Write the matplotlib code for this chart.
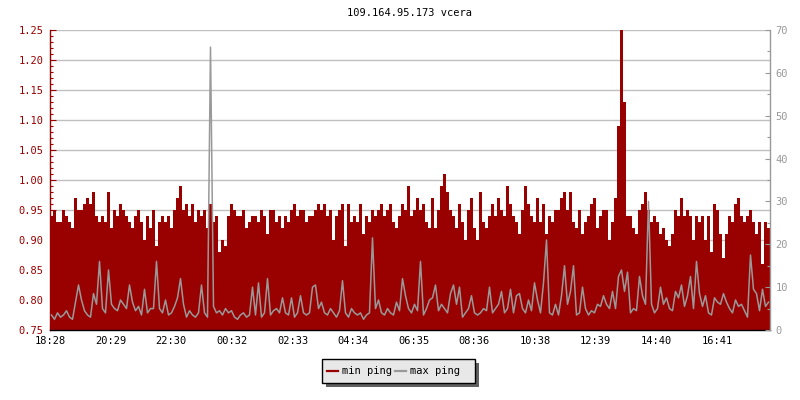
import matplotlib
matplotlib.use("Agg")
import matplotlib.pyplot as plt
import numpy as np
from matplotlib.patches import Rectangle
from matplotlib.lines import Line2D

plt.rcParams['font.family'] = 'DejaVu Sans Mono'
plt.rcParams['font.size'] = 7.5

DARKRED = '#990000'
GRAY = '#999999'

# samples every 6 minutes, starting 18:28
step_min = 6

min_ping = [
    0.94, 0.95, 0.93, 0.93, 0.95, 0.94, 0.93, 0.92, 0.97, 0.95, 0.95, 0.96, 0.97, 0.96, 0.98, 0.94, 0.93,
    0.94, 0.93, 0.98, 0.92, 0.95, 0.94, 0.96, 0.95, 0.94, 0.93, 0.92, 0.94, 0.95, 0.93, 0.90, 0.94, 0.92,
    0.95, 0.89, 0.93, 0.94, 0.93, 0.94, 0.92, 0.95, 0.97, 0.99, 0.95, 0.96, 0.94, 0.96, 0.93, 0.95, 0.94,
    0.95, 0.92, 0.96, 0.93, 0.94, 0.88, 0.90, 0.89, 0.94, 0.96, 0.95, 0.94, 0.94, 0.95, 0.92, 0.93, 0.94,
    0.94, 0.93, 0.95, 0.94, 0.91, 0.95, 0.95, 0.93, 0.94, 0.92, 0.94, 0.93, 0.95, 0.96, 0.94, 0.95, 0.95,
    0.93, 0.94, 0.94, 0.95, 0.96, 0.95, 0.96, 0.94, 0.95, 0.90, 0.94, 0.95, 0.96, 0.89, 0.96, 0.93, 0.94,
    0.93, 0.96, 0.91, 0.94, 0.93, 0.95, 0.94, 0.95, 0.96, 0.94, 0.95, 0.96, 0.93, 0.92, 0.94, 0.96, 0.95,
    0.99, 0.94, 0.95, 0.97, 0.95, 0.96, 0.93, 0.92, 0.97, 0.92, 0.95, 0.99, 1.01, 0.98, 0.95, 0.94, 0.92,
    0.96, 0.93, 0.90, 0.95, 0.97, 0.92, 0.90, 0.98, 0.93, 0.92, 0.94, 0.96, 0.94, 0.97, 0.95, 0.94, 0.99,
    0.96, 0.94, 0.93, 0.91, 0.95, 0.99, 0.96, 0.94, 0.93, 0.97, 0.93, 0.96, 0.91, 0.94, 0.93, 0.95, 0.95,
    0.97, 0.98, 0.95, 0.98, 0.93, 0.92, 0.95, 0.91, 0.93, 0.94, 0.96, 0.97, 0.92, 0.94, 0.95, 0.95, 0.90,
    0.93, 0.97, 1.09, 1.30, 1.13, 0.94, 0.94, 0.92, 0.91, 0.95, 0.96, 0.98, 0.95, 0.93, 0.94, 0.93, 0.91,
    0.92, 0.90, 0.89, 0.91, 0.95, 0.94, 0.97, 0.94, 0.95, 0.94, 0.90, 0.94, 0.93, 0.94, 0.90, 0.94, 0.88,
    0.96, 0.95, 0.91, 0.87, 0.91, 0.94, 0.93, 0.96, 0.97, 0.94, 0.93, 0.94, 0.95, 0.93, 0.91, 0.93, 0.86,
    0.93, 0.92,
]

max_ping = [
    3.5, 2.5, 4.0, 3.0, 3.5, 4.5, 3.0, 2.5, 6.5, 10.5, 7.0, 4.5, 3.5, 3.0, 8.5, 6.0, 16.0,
    5.0, 4.0, 14.0, 6.0, 5.0, 4.5, 7.0, 6.0, 5.0, 10.5, 6.5, 4.5, 5.5, 3.5, 9.5, 4.0, 5.0,
    5, 16, 5, 4, 7, 3.5, 4, 5.5, 7.5, 12, 6, 3, 4.5, 3.5, 3, 4, 10.5,
    4, 3, 66, 5.5, 4, 4.5, 3.5, 5, 4, 4.5, 3, 2.5, 3.5, 4, 3, 3.5, 10,
    3.5, 11, 3, 4, 12, 3.5, 4.5, 5, 4, 7.5, 4, 3.5, 7.5, 3, 4, 8, 4,
    3.5, 4, 10, 10.5, 5, 6.5, 4, 3.5, 5, 4, 3, 4.5, 11.5, 4, 3, 5, 4,
    3.5, 4, 2.5, 3.5, 4, 21.5, 5, 7, 4, 3.5, 5, 4, 3.5, 6.5, 4.5, 12, 8,
    5, 4, 6, 4.5, 16, 3.5, 5, 7, 7.5, 10.5, 4.5, 6, 5, 4, 8.5, 10.5, 6,
    10, 3, 4, 5, 8, 4, 3.5, 4, 5, 4.5, 10, 4, 5, 6, 9, 4, 5,
    9.5, 4, 8, 8.5, 5, 4, 7, 4.5, 11, 7, 4, 11, 21, 4, 3.5, 6, 3.5,
    8, 15, 6, 9, 15, 3.5, 4, 10, 5, 3.5, 4.5, 4, 6, 5.5, 8, 6, 5,
    9, 5, 12.5, 14, 9, 13.5, 4, 5, 4.5, 12.5, 8, 6, 30, 6, 4, 5, 10,
    6, 7.5, 5, 4.5, 9, 7.5, 10.5, 5.5, 8, 12.5, 5, 16, 8.5, 5.5, 8, 4, 3.5,
    7.5, 6.5, 6, 8.5, 6.5, 5, 4, 7, 5.5, 6, 4.5, 3, 17.5, 9.5, 8.5, 4.5, 9.5,
    5.5, 6.5,
]

tick_labels = ['18:28', '20:29', '22:30', '00:32', '02:33', '04:34',
               '06:35', '08:36', '10:38', '12:39', '14:40', '16:41']
tick_spacing = 121.25  # minutes

edges = np.arange(len(min_ping) + 1) * step_min
mids = edges[:-1] + step_min / 2

fig = plt.figure(figsize=(8, 4), dpi=100)
ax = fig.add_axes([50 / 800, 70 / 400, 720 / 800, 300 / 400])
ax2 = ax.twinx()

# min ping as filled bars on left axis
ax.stairs(min_ping, edges, fill=True, baseline=0.70, color=DARKRED, linewidth=0)
ax.set_ylim(0.75, 1.25)
ax.set_xlim(0, 1440)
ax.set_yticks(np.arange(0.75, 1.2501, 0.05))
ax.set_yticks(np.arange(0.75, 1.2501, 0.01), minor=True)
ax.set_yticklabels(['%.2f' % v for v in np.arange(0.75, 1.2501, 0.05)])
ax.grid(axis='y', which='major', color='#c0c0c0', linewidth=1.0)
ax.set_axisbelow(True)
ax.tick_params(axis='y', which='both', direction='in', colors=DARKRED,
               labelcolor=DARKRED, width=0.8, pad=4.5)
ax.tick_params(axis='y', which='major', length=4)
ax.tick_params(axis='y', which='minor', length=2.5)
ax.set_xticks([i * tick_spacing for i in range(len(tick_labels))])
ax.set_xticklabels(tick_labels)
ax.tick_params(axis='x', direction='in', length=4, width=0.8, colors='black', pad=4)

# max ping as grey line on right axis
ax2.plot(mids, max_ping, color=GRAY, linewidth=1.1)
ax2.set_ylim(0, 70)
ax2.set_yticks(np.arange(0, 71, 10))
ax2.set_yticks(np.arange(0, 71, 5), minor=True)
ax2.tick_params(axis='y', which='both', direction='in', colors=GRAY,
                labelcolor=GRAY, width=0.8, pad=4)
ax2.tick_params(axis='y', which='major', length=3.5)
ax2.tick_params(axis='y', which='minor', length=2.5)

for s in ['top', 'right']:
    ax.spines[s].set_visible(False)
for s in ['top', 'left', 'bottom']:
    ax2.spines[s].set_visible(False)
ax.spines['left'].set_color(DARKRED)
ax.spines['bottom'].set_color('black')
ax2.spines['right'].set_color(GRAY)
ax.spines['left'].set_linewidth(1.0)
ax.spines['bottom'].set_linewidth(1.0)
ax2.spines['right'].set_linewidth(1.0)

fig.text(0.5125, 1 - 13 / 400, '109.164.95.173 vcera', ha='center', va='center',
         color='black')

# legend box with shadow
fig.patches.append(Rectangle((326 / 800, 1 - 387 / 400), 153 / 800, 24 / 400,
                             transform=fig.transFigure, facecolor='#606060',
                             edgecolor='none'))
fig.patches.append(Rectangle((322 / 800, 1 - 383 / 400), 153 / 800, 24 / 400,
                             transform=fig.transFigure, facecolor='#e8e8e8',
                             edgecolor='black', linewidth=1.0))
ly = 1 - 371 / 400
fig.lines.append(Line2D([327 / 800, 338 / 800], [ly, ly], transform=fig.transFigure,
                        color=DARKRED, linewidth=1.6))
fig.text(341.5 / 800, ly, 'min ping', ha='left', va='center')
fig.lines.append(Line2D([395 / 800, 406 / 800], [ly, ly], transform=fig.transFigure,
                        color=GRAY, linewidth=1.6))
fig.text(409.5 / 800, ly, 'max ping', ha='left', va='center')

fig.savefig('out.png', dpi=100)
